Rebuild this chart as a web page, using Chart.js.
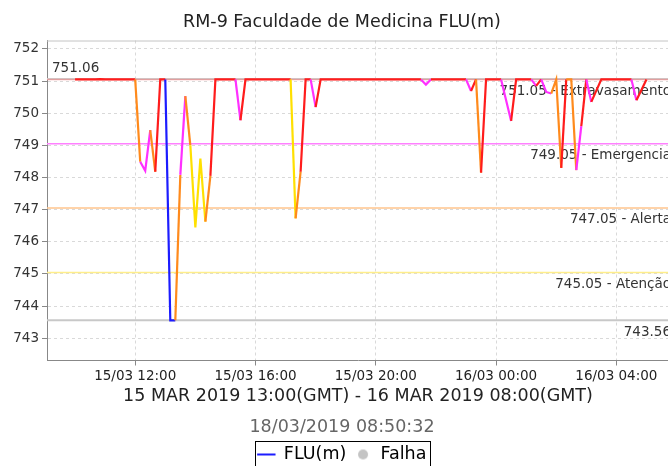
<!DOCTYPE html>
<html>
<head>
<meta charset="utf-8">
<script src="https://cdn.jsdelivr.net/npm/chart.js@4.4.1/dist/chart.umd.min.js"></script>
<style>
  html, body { margin: 0; padding: 0; background: #fff; overflow: hidden; }
  #wrap { width: 668px; height: 466px; overflow: hidden; }
  canvas { display: block; }
</style>
</head>
<body>
<div id="wrap"><canvas id="chart" width="684" height="480"></canvas></div>
<script>
// FLU readings, one every 10 minutes, 15/03 10:00 -> 16/03 05:00 (local time)
const startHour = 10;
const stepMinutes = 10;
const levels = [
  751.05, 751.05, 751.05, 751.05, 751.05, 751.06, 751.05, 751.05, 751.05, 751.05,
  751.05, 751.05, 751.05, 748.49, 748.21, 749.47, 748.18, 751.05, 751.05, 743.56,
  743.56, 748.08, 750.53, 749.00, 746.45, 748.59, 746.63, 748.05, 751.05, 751.05,
  751.05, 751.05, 751.05, 749.78, 751.05, 751.05, 751.05, 751.05, 751.05, 751.05,
  751.05, 751.05, 751.05, 751.05, 746.73, 748.18, 751.05, 751.05, 750.19, 751.05,
  751.05, 751.05, 751.05, 751.05, 751.05, 751.05, 751.05, 751.05, 751.05, 751.05,
  751.05, 751.05, 751.05, 751.05, 751.05, 751.05, 751.05, 751.05, 751.05, 751.05,
  750.89, 751.05, 751.05, 751.05, 751.05, 751.05, 751.05, 751.05, 751.05, 750.69,
  751.05, 748.15, 751.05, 751.05, 751.05, 751.05, 750.40, 749.76, 751.05, 751.05,
  751.05, 751.05, 750.85, 751.05, 750.66, 750.61, 751.05, 748.30, 751.05, 751.05,
  748.23, 749.60, 751.05, 750.35, 750.70, 751.05, 751.05, 751.05, 751.05, 751.05,
  751.05, 751.05, 750.40, 750.72, 751.05
];
// status of the segment arriving at each reading
const status = (
  'RRRRRRRRRR' + 'RRROMMORRB' + 'BOMOYYYORR' + 'RRRMRRRRRR' + 'RRRRYORRMR' +
  'RRRRRRRRRR' + 'RRRRRRRRRR' + 'MMRRRRRRRM' + 'RORRRRMMRR' + 'RRMRMMOORO' +
  'OMRMRRRRRR' + 'RRMRR'
).split('');
const statusColors = { R: '#ff1c1c', O: '#ff8a1c', M: '#ff30ff', Y: '#ffe000', B: '#1c1cff' };

const thresholds = [751.05, 749.05, 747.05, 745.05];
const thresholdNames = ['Extravasamento', 'Emergencia', 'Alerta', 'Atenção'];
const thresholdColors = ['rgba(240,120,120,0.55)', '#ff80ff', '#ffc48c', '#ffee8a'];

const xTicks = [12, 16, 20, 24, 28];
const xTickLabels = ['15/03 12:00', '15/03 16:00', '15/03 20:00', '16/03 00:00', '16/03 04:00'];
const yTicks = [743, 744, 745, 746, 747, 748, 749, 750, 751, 752];

const xMin = 9 + 4 / 60, xMax = 29.75;
const yMin = 742.31, yMax = 752.26;

const minLevel = Math.min(...levels);
const maxLevel = Math.max(...levels);

const FONT = "'DejaVu Sans', sans-serif";
Chart.defaults.font.family = FONT;
Chart.defaults.color = '#333';

const points = levels.map((v, i) => ({ x: startHour + i * stepMinutes / 60, y: v }));
const flat = v => [{ x: xMin, y: v }, { x: xMax, y: v }];

// gray dot for the "Falha" legend entry
const falhaDot = document.createElement('canvas');
falhaDot.width = 12; falhaDot.height = 12;
(() => {
  const c = falhaDot.getContext('2d');
  c.fillStyle = '#c4c4c4';
  c.beginPath(); c.arc(6, 6, 5, 0, Math.PI * 2); c.fill();
})();

const annotations = {
  id: 'annotations',
  beforeDatasetsDraw(chart) {
    const { ctx, chartArea, scales: { y } } = chart;
    ctx.save();
    ctx.strokeStyle = '#c4c4c4';
    ctx.lineWidth = 1;
    ctx.beginPath();
    ctx.moveTo(chartArea.left, chartArea.top + 0.5);
    ctx.lineTo(chartArea.right, chartArea.top + 0.5);
    ctx.stroke();

    ctx.font = '13.5px ' + FONT;
    ctx.fillStyle = '#333';
    ctx.textAlign = 'right';
    ctx.textBaseline = 'top';
    thresholds.forEach((v, k) => {
      ctx.fillText(v.toFixed(2) + ' - ' + thresholdNames[k], chartArea.right + 2, y.getPixelForValue(v) + 5);
    });
    ctx.fillText(minLevel.toFixed(2), chartArea.right + 2, y.getPixelForValue(minLevel) + 5);
    ctx.textAlign = 'left';
    ctx.textBaseline = 'bottom';
    ctx.fillText(maxLevel.toFixed(2), chartArea.left + 5, y.getPixelForValue(maxLevel) - 4);
    ctx.restore();
  },
  afterDraw(chart) {
    const boxes = chart.legend.legendHitBoxes;
    if (!boxes.length) return;
    const l = Math.min(...boxes.map(b => b.left)) - 3;
    const r = Math.max(...boxes.map(b => b.left + b.width)) + 3;
    const t = boxes[0].top - 5;
    const b = boxes[0].top + boxes[0].height + 5;
    const ctx = chart.ctx;
    ctx.save();
    ctx.strokeStyle = '#000';
    ctx.lineWidth = 1;
    ctx.strokeRect(Math.round(l) + 0.5, Math.round(t) + 0.5, Math.round(r - l), Math.round(b - t));
    ctx.restore();
  }
};

new Chart(document.getElementById('chart'), {
  type: 'line',
  data: {
    datasets: [
      {
        label: 'FLU(m)',
        data: points,
        borderWidth: 2.2,
        pointRadius: 0,
        order: 0,
        segment: { borderColor: c => statusColors[status[c.p1DataIndex]] }
      },
      { label: 'max', data: flat(maxLevel), borderColor: '#cfcfcf', borderWidth: 2, pointRadius: 0, order: 3 },
      { label: 'min', data: flat(minLevel), borderColor: '#c8c8c8', borderWidth: 2, pointRadius: 0, order: 3 },
      ...thresholds.map((v, k) => ({
        label: thresholdNames[k], data: flat(v), borderColor: thresholdColors[k],
        borderWidth: 1.5, pointRadius: 0, order: 2
      }))
    ]
  },
  options: {
    responsive: false,
    devicePixelRatio: 1,
    animation: false,
    layout: { padding: { bottom: 6.8 } },
    scales: {
      x: {
        type: 'linear',
        min: xMin, max: xMax,
        afterBuildTicks: s => { s.ticks = xTicks.map(v => ({ value: v })); },
        ticks: {
          callback: (v, i) => xTickLabels[i],
          autoSkip: false, maxRotation: 0,
          color: '#222', font: { size: 13.5 }, padding: 3
        },
        grid: { color: '#d9d9d9', tickLength: 5, tickColor: '#888' },
        border: { color: '#888', dash: [3, 3] },
        title: {
          display: true,
          text: '15 MAR 2019 13:00(GMT) - 16 MAR 2019 08:00(GMT)',
          color: '#222', font: { size: 17.5, lineHeight: 1 },
          padding: { top: 0, bottom: 5.5 }
        }
      },
      y: {
        min: yMin, max: yMax,
        afterBuildTicks: s => { s.ticks = yTicks.map(v => ({ value: v })); },
        afterFit: s => { s.width = 47; },
        ticks: { color: '#333', font: { size: 13.5 }, padding: 3, callback: v => String(v) },
        grid: { color: '#d9d9d9', tickLength: 5, tickColor: '#888' },
        border: { color: '#888', dash: [3, 3] }
      },
      yR: {
        position: 'right',
        min: yMin, max: yMax,
        afterFit: s => { s.width = 15; },
        ticks: { display: false },
        grid: { display: false },
        border: { display: false }
      }
    },
    plugins: {
      title: {
        display: true,
        text: 'RM-9 Faculdade de Medicina FLU(m)',
        color: '#222', font: { size: 17.5, weight: 'normal' },
        padding: { top: 11.5, bottom: 8 }
      },
      subtitle: {
        display: true,
        position: 'bottom',
        text: '18/03/2019 08:50:32',
        color: '#666', font: { size: 17.5 },
        padding: { top: 6, bottom: 0 }
      },
      legend: {
        position: 'bottom',
        weight: 3000,
        labels: {
          usePointStyle: true,
          boxHeight: 13,
          padding: 8,
          color: '#222',
          font: { size: 17.5 },
          generateLabels: () => [
            { text: 'FLU(m)', pointStyle: 'line', strokeStyle: '#1c1cff', fillStyle: '#1c1cff', lineWidth: 2, hidden: false, datasetIndex: 0 },
            { text: 'Falha', pointStyle: falhaDot, strokeStyle: '#c4c4c4', fillStyle: '#c4c4c4', lineWidth: 0, hidden: false, datasetIndex: 1 }
          ]
        }
      },
      tooltip: { enabled: false }
    }
  },
  plugins: [annotations]
});
</script>
</body>
</html>
